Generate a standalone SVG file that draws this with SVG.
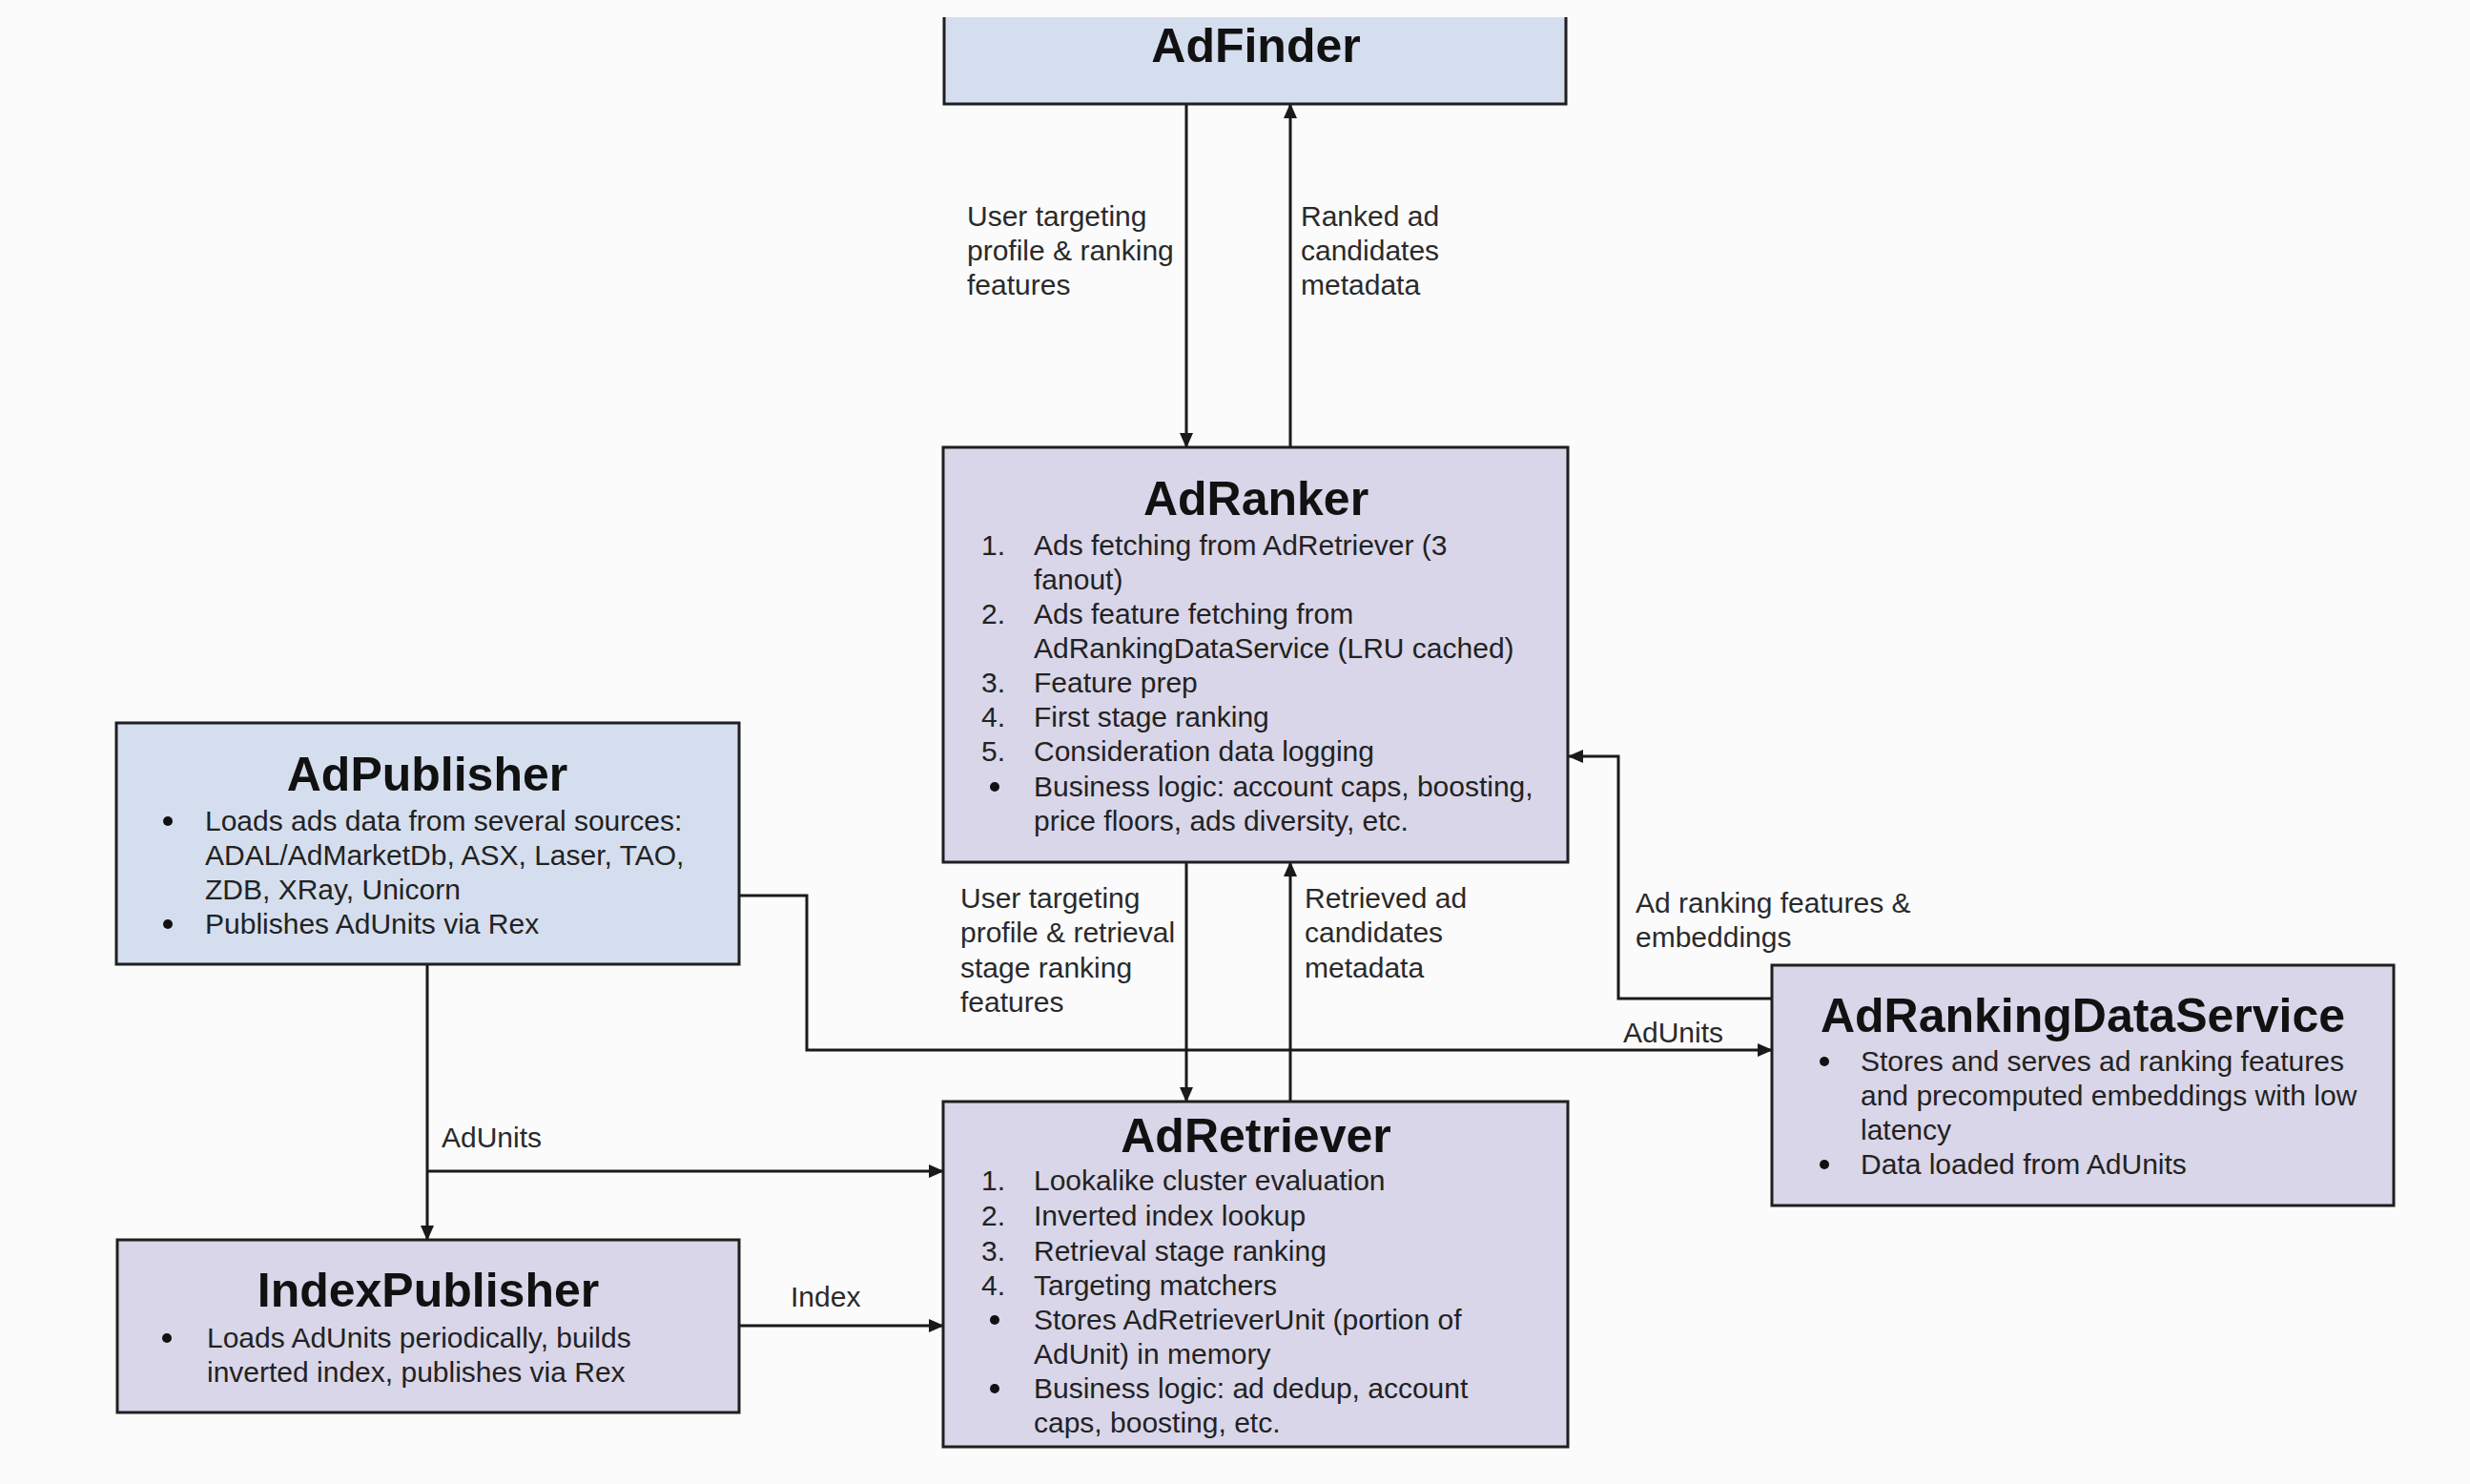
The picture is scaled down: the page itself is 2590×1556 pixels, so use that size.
<svg xmlns="http://www.w3.org/2000/svg" width="2590" height="1556" viewBox="0 0 2590 1556">
<defs>
<marker id="arr" markerUnits="userSpaceOnUse" markerWidth="16" markerHeight="14" refX="15" refY="7" orient="auto">
<path d="M0,0 L16,7 L0,14 z" fill="#1a1a1a"/>
</marker>
<style>
.blue{fill:#d5deee;stroke:#1f1f1f;stroke-width:3}
.lav{fill:#d9d6e9;stroke:#1f1f1f;stroke-width:3}
.title{font-family:"Liberation Sans",Arial,sans-serif;font-weight:bold;font-size:50px;fill:#111;text-anchor:middle}
.body{font-family:"Liberation Sans",Arial,sans-serif;font-size:30px;fill:#222}
.lbl{font-family:"Liberation Sans",Arial,sans-serif;font-size:30px;fill:#2a2a2a}
.conn{fill:none;stroke:#1a1a1a;stroke-width:3;marker-end:url(#arr)}
.bul{fill:#111}
</style>
</defs>
<rect x="0" y="0" width="2590" height="1556" fill="#fbfbfc"/>

<g id="connectors">
<path class="conn" d="M1244,109 V469"/>
<path class="conn" d="M1353,469 V109"/>
<path class="conn" d="M1244,904 V1155"/>
<path class="conn" d="M1353,1155 V904"/>
<path class="conn" d="M775,939 H846 V1101 H1858"/>
<path class="conn" d="M1858,1047 H1697 V793 H1645"/>
<path class="conn" d="M448,1011 V1300"/>
<path class="conn" d="M448,1228 H989"/>
<path class="conn" d="M775,1390 H989"/>
<text class="lbl" x="1014" y="237">User targeting</text>
<text class="lbl" x="1014" y="273">profile &amp; ranking</text>
<text class="lbl" x="1014" y="309">features</text>
<text class="lbl" x="1364" y="237">Ranked ad</text>
<text class="lbl" x="1364" y="273">candidates</text>
<text class="lbl" x="1364" y="309">metadata</text>
<text class="lbl" x="1007" y="952">User targeting</text>
<text class="lbl" x="1007" y="988">profile &amp; retrieval</text>
<text class="lbl" x="1007" y="1025">stage ranking</text>
<text class="lbl" x="1007" y="1061">features</text>
<text class="lbl" x="1368" y="952">Retrieved ad</text>
<text class="lbl" x="1368" y="988">candidates</text>
<text class="lbl" x="1368" y="1025">metadata</text>
<text class="lbl" x="1715" y="957">Ad ranking features &amp;</text>
<text class="lbl" x="1715" y="993">embeddings</text>
<text class="lbl" x="1702" y="1093">AdUnits</text>
<text class="lbl" x="463" y="1203">AdUnits</text>
<text class="lbl" x="829" y="1370">Index</text>
</g>

<g id="AdFinder">
<rect x="990" y="18" width="652" height="91" fill="#d5deee"/>
<path d="M990,18 V109 H1642 V18" fill="none" stroke="#1f1f1f" stroke-width="3"/>
<text class="title" x="1317" y="65">AdFinder</text>
</g>

<g id="AdRanker">
<rect class="lav" x="989" y="469" width="655" height="435"/>
<text class="title" x="1317" y="540">AdRanker</text>
<text class="body" x="1029" y="582">1.</text>
<text class="body" x="1084" y="582">Ads fetching from AdRetriever (3</text>
<text class="body" x="1084" y="618">fanout)</text>
<text class="body" x="1029" y="654">2.</text>
<text class="body" x="1084" y="654">Ads feature fetching from</text>
<text class="body" x="1084" y="690">AdRankingDataService (LRU cached)</text>
<text class="body" x="1029" y="726">3.</text>
<text class="body" x="1084" y="726">Feature prep</text>
<text class="body" x="1029" y="762">4.</text>
<text class="body" x="1084" y="762">First stage ranking</text>
<text class="body" x="1029" y="798">5.</text>
<text class="body" x="1084" y="798">Consideration data logging</text>
<circle class="bul" cx="1043" cy="825" r="5"/>
<text class="body" x="1084" y="835">Business logic: account caps, boosting,</text>
<text class="body" x="1084" y="871">price floors, ads diversity, etc.</text>
</g>

<g id="AdPublisher">
<rect class="blue" x="122" y="758" width="653" height="253"/>
<text class="title" x="448" y="829">AdPublisher</text>
<circle class="bul" cx="176" cy="861" r="5"/>
<text class="body" x="215" y="871">Loads ads data from several sources:</text>
<text class="body" x="215" y="907">ADAL/AdMarketDb, ASX, Laser, TAO,</text>
<text class="body" x="215" y="943">ZDB, XRay, Unicorn</text>
<circle class="bul" cx="176" cy="969" r="5"/>
<text class="body" x="215" y="979">Publishes AdUnits via Rex</text>
</g>

<g id="AdRankingDataService">
<rect class="lav" x="1858" y="1012" width="652" height="252"/>
<text class="title" x="2184" y="1082">AdRankingDataService</text>
<circle class="bul" cx="1913" cy="1113" r="5"/>
<text class="body" x="1951" y="1123">Stores and serves ad ranking features</text>
<text class="body" x="1951" y="1159">and precomputed embeddings with low</text>
<text class="body" x="1951" y="1195">latency</text>
<circle class="bul" cx="1913" cy="1221" r="5"/>
<text class="body" x="1951" y="1231">Data loaded from AdUnits</text>
</g>

<g id="AdRetriever">
<rect class="lav" x="989" y="1155" width="655" height="362"/>
<text class="title" x="1317" y="1208">AdRetriever</text>
<text class="body" x="1029" y="1248">1.</text>
<text class="body" x="1084" y="1248">Lookalike cluster evaluation</text>
<text class="body" x="1029" y="1285">2.</text>
<text class="body" x="1084" y="1285">Inverted index lookup</text>
<text class="body" x="1029" y="1322">3.</text>
<text class="body" x="1084" y="1322">Retrieval stage ranking</text>
<text class="body" x="1029" y="1358">4.</text>
<text class="body" x="1084" y="1358">Targeting matchers</text>
<circle class="bul" cx="1043" cy="1384" r="5"/>
<text class="body" x="1084" y="1394">Stores AdRetrieverUnit (portion of</text>
<text class="body" x="1084" y="1430">AdUnit) in memory</text>
<circle class="bul" cx="1043" cy="1456" r="5"/>
<text class="body" x="1084" y="1466">Business logic: ad dedup, account</text>
<text class="body" x="1084" y="1502">caps, boosting, etc.</text>
</g>

<g id="IndexPublisher">
<rect class="lav" x="123" y="1300" width="652" height="181"/>
<text class="title" x="449" y="1370">IndexPublisher</text>
<circle class="bul" cx="175" cy="1403" r="5"/>
<text class="body" x="217" y="1413">Loads AdUnits periodically, builds</text>
<text class="body" x="217" y="1449">inverted index, publishes via Rex</text>
</g>
</svg>
